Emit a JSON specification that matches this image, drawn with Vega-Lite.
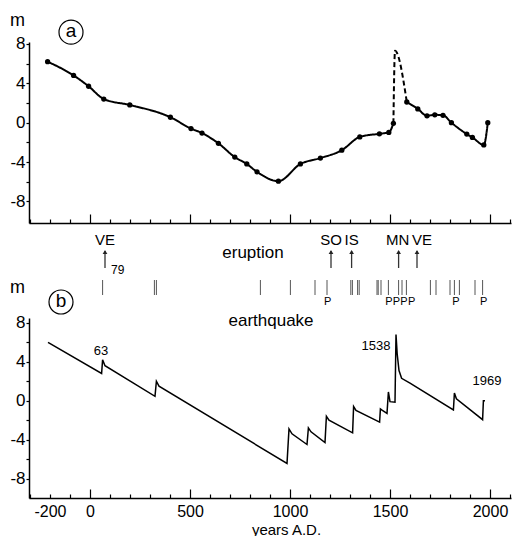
{
  "$schema": "https://vega.github.io/schema/vega-lite/v6.json",
  "padding": {"left": 9, "top": 11, "right": 2, "bottom": 0},
  "spacing": 0,
  "bounds": "flush",
  "config": {
    "view": {"stroke": null},
    "font": "Liberation Sans",
    "axis": {
      "domainColor": "black", "domainWidth": 1.5, "tickColor": "black", "tickWidth": 1.2,
      "labelFont": "Liberation Sans", "labelFontSize": 17, "labelColor": "black", "grid": false,
      "titleFont": "Liberation Sans", "titleFontWeight": "normal", "titleFontSize": 18, "titleColor": "black"
    }
  },
  "datasets": {
    "a": [
      {"year": -212, "m": 6.2, "part": "s1"},
      {"year": -82, "m": 4.8, "part": "s1"},
      {"year": -7, "m": 3.7, "part": "s1"},
      {"year": 69, "m": 2.4, "part": "s1"},
      {"year": 199, "m": 1.8, "part": "s1"},
      {"year": 402, "m": 0.55, "part": "s1"},
      {"year": 505, "m": -0.6, "part": "s1"},
      {"year": 560, "m": -1.06, "part": "s1"},
      {"year": 642, "m": -2.1, "part": "s1"},
      {"year": 724, "m": -3.5, "part": "s1"},
      {"year": 784, "m": -4.2, "part": "s1"},
      {"year": 835, "m": -5.0, "part": "s1"},
      {"year": 942, "m": -5.95, "part": "s1"},
      {"year": 1052, "m": -4.2, "part": "s1"},
      {"year": 1152, "m": -3.6, "part": "s1"},
      {"year": 1259, "m": -2.8, "part": "s1"},
      {"year": 1349, "m": -1.45, "part": "s1"},
      {"year": 1447, "m": -1.13, "part": "s1"},
      {"year": 1494, "m": -0.99, "part": "s1"},
      {"year": 1517, "m": -0.07, "part": "s1"},
      {"year": 1517, "m": -0.07, "part": "dash"},
      {"year": 1525, "m": 7.3, "part": "dash"},
      {"year": 1584, "m": 2.1, "part": "dash"},
      {"year": 1584, "m": 2.1, "part": "s2"},
      {"year": 1639, "m": 1.4, "part": "s2"},
      {"year": 1685, "m": 0.7, "part": "s2"},
      {"year": 1724, "m": 0.8, "part": "s2"},
      {"year": 1765, "m": 0.75, "part": "s2"},
      {"year": 1807, "m": 0.0, "part": "s2"},
      {"year": 1884, "m": -1.16, "part": "s2"},
      {"year": 1912, "m": -1.5, "part": "s2"},
      {"year": 1969, "m": -2.26, "part": "s2"},
      {"year": 1989, "m": 0.0, "part": "s2"}
    ],
    "b": [
      {"i": 1, "year": -210, "m": 6.0},
      {"i": 2, "year": 58, "m": 2.8},
      {"i": 3, "year": 63, "m": 4.2},
      {"i": 4, "year": 75, "m": 3.6},
      {"i": 5, "year": 325, "m": 0.45},
      {"i": 6, "year": 332, "m": 2.0},
      {"i": 7, "year": 345, "m": 1.5},
      {"i": 8, "year": 985, "m": -6.45},
      {"i": 9, "year": 995, "m": -2.9},
      {"i": 10, "year": 1010, "m": -3.4},
      {"i": 11, "year": 1085, "m": -4.5},
      {"i": 12, "year": 1092, "m": -2.8},
      {"i": 13, "year": 1105, "m": -3.2},
      {"i": 14, "year": 1175, "m": -4.3},
      {"i": 15, "year": 1182, "m": -1.6},
      {"i": 16, "year": 1195, "m": -2.0},
      {"i": 17, "year": 1313, "m": -3.3},
      {"i": 18, "year": 1318, "m": -0.6},
      {"i": 19, "year": 1330, "m": -1.0},
      {"i": 20, "year": 1448, "m": -2.2},
      {"i": 21, "year": 1452, "m": -0.85},
      {"i": 22, "year": 1462, "m": -1.0},
      {"i": 23, "year": 1485, "m": -1.3},
      {"i": 24, "year": 1492, "m": 0.9},
      {"i": 25, "year": 1500, "m": -0.1},
      {"i": 26, "year": 1525, "m": -0.15},
      {"i": 27, "year": 1530, "m": 6.8},
      {"i": 28, "year": 1536, "m": 4.8},
      {"i": 29, "year": 1545, "m": 3.1},
      {"i": 30, "year": 1558, "m": 2.3},
      {"i": 31, "year": 1600, "m": 1.8},
      {"i": 32, "year": 1817, "m": -0.95},
      {"i": 33, "year": 1822, "m": 0.8},
      {"i": 34, "year": 1832, "m": 0.2},
      {"i": 35, "year": 1963, "m": -1.95},
      {"i": 36, "year": 1967, "m": 0.0},
      {"i": 37, "year": 1975, "m": 0.0}
    ],
    "eruptions": [
      {"year": 75, "name": "VE"},
      {"year": 1205, "name": "SO"},
      {"year": 1308, "name": "IS"},
      {"year": 1543, "name": "MN"},
      {"year": 1635, "name": "VE"}
    ],
    "quakes": [
      {"year": 63}, {"year": 322}, {"year": 332}, {"year": 852}, {"year": 1002}, {"year": 1125},
      {"year": 1185}, {"year": 1304}, {"year": 1312}, {"year": 1338}, {"year": 1346},
      {"year": 1435}, {"year": 1441}, {"year": 1455}, {"year": 1492}, {"year": 1543},
      {"year": 1560}, {"year": 1582}, {"year": 1702}, {"year": 1730}, {"year": 1800},
      {"year": 1822}, {"year": 1847}, {"year": 1925}, {"year": 1963}
    ],
    "plabels": [
      {"year": 1188}, {"year": 1494}, {"year": 1532}, {"year": 1570}, {"year": 1608}, {"year": 1830}, {"year": 1968}
    ],
    "bnotes": [
      {"year": 55, "m": 5.1, "text": "63"},
      {"year": 1430, "m": 5.6, "text": "1538"},
      {"year": 1985, "m": 2.0, "text": "1969"}
    ]
  },
  "vconcat": [
    {
      "width": 482,
      "height": 181,
      "encoding": {
        "x": {"field": "year", "type": "quantitative",
              "scale": {"domain": [-305, 2105], "nice": false, "zero": false},
              "axis": {"values": [-300,-200,-100,0,100,200,300,400,500,600,700,800,900,1000,1100,1200,1300,1400,1500,1600,1700,1800,1900,2000,2100],
                       "labels": false, "title": null,
                       "tickSize": {"condition": {"test": "datum.value % 500 === 0", "value": -9}, "value": -4}}},
        "y": {"field": "m", "type": "quantitative",
              "scale": {"domain": [-10.2, 8.2], "nice": false, "zero": false},
              "axis": {"values": [-8,-6,-4,-2,0,2,4,6,8],
                       "labelExpr": "datum.value % 4 === 0 ? '' + datum.value : ''",
                       "tickSize": 3, "labelPadding": 1,
                       "title": "m", "titleAngle": 0, "titleX": -12, "titleY": -22,
                       "titleAlign": "center", "titleBaseline": "middle"}}
      },
      "layer": [
        {
          "data": {"values": [{"a": 1}]},
          "mark": {"type": "rule", "strokeDash": [60, 5], "color": "#444", "strokeWidth": 1.1},
          "encoding": {
            "x": {"datum": -240, "type": "quantitative", "scale": {"domain": [-305, 2105], "nice": false, "zero": false}},
            "x2": {"datum": 2105},
            "y": {"datum": 0, "type": "quantitative", "scale": {"domain": [-10.2, 8.2], "nice": false, "zero": false}}
          }
        },
        {
          "data": {"name": "a"},
          "mark": {"type": "line", "color": "black", "strokeWidth": 2, "interpolate": "monotone"},
          "encoding": {
            "detail": {"field": "part"},
            "strokeDash": {"field": "part", "type": "nominal",
                           "scale": {"domain": ["s1", "dash", "s2"], "range": [[1, 0], [5, 3], [1, 0]]},
                           "legend": null}
          }
        },
        {
          "data": {"name": "a"},
          "transform": [{"filter": "datum.part !== 'dash'"}],
          "mark": {"type": "point", "filled": true, "color": "black", "size": 28, "opacity": 1}
        },
        {
          "data": {"values": [{"year": -95, "m": 9.2, "t": "a"}]},
          "layer": [
            {"mark": {"type": "point", "shape": "circle", "size": 576, "filled": false, "color": "black", "strokeWidth": 1.2, "opacity": 1}},
            {"mark": {"type": "text", "fontSize": 19, "color": "black", "baseline": "middle", "dy": -1}, "encoding": {"text": {"field": "t"}}}
          ]
        }
      ]
    },
    {
      "width": 482,
      "height": 95,
      "encoding": {
        "x": {"field": "year", "type": "quantitative",
              "scale": {"domain": [-305, 2105], "nice": false, "zero": false}, "axis": null}
      },
      "layer": [
        {
          "data": {"name": "eruptions"},
          "mark": {"type": "rule", "color": "#333", "strokeWidth": 1.3},
          "encoding": {
            "y": {"datum": 50, "type": "quantitative", "scale": {"domain": [0, 95], "nice": false, "zero": false}, "axis": null},
            "y2": {"datum": 67}
          }
        },
        {
          "data": {"name": "eruptions"},
          "mark": {"type": "point", "shape": "triangle-up", "filled": true, "color": "#222", "size": 22, "opacity": 1},
          "encoding": {
            "y": {"datum": 66, "type": "quantitative", "scale": {"domain": [0, 95], "nice": false, "zero": false}, "axis": null}
          }
        },
        {
          "data": {"name": "eruptions"},
          "mark": {"type": "text", "fontSize": 15, "color": "black", "baseline": "middle",
                   "dx": {"expr": "datum.name === 'VE' && datum.year > 1000 ? 5 : (datum.name === 'MN' ? -1 : 0)"}},
          "encoding": {
            "y": {"datum": 78, "type": "quantitative", "scale": {"domain": [0, 95], "nice": false, "zero": false}, "axis": null},
            "text": {"field": "name"}
          }
        },
        {
          "data": {"values": [{"year": 105, "t": "79", "lvl": 48}]},
          "mark": {"type": "text", "fontSize": 12, "color": "black", "baseline": "middle", "align": "left"},
          "encoding": {
            "y": {"field": "lvl", "type": "quantitative", "scale": {"domain": [0, 95], "nice": false, "zero": false}, "axis": null},
            "text": {"field": "t"}
          }
        },
        {
          "data": {"values": [{"year": 815, "t": "eruption", "lvl": 65}, {"year": 905, "t": "earthquake", "lvl": -3}]},
          "mark": {"type": "text", "fontSize": 17, "color": "black", "baseline": "middle"},
          "encoding": {
            "y": {"field": "lvl", "type": "quantitative", "scale": {"domain": [0, 95], "nice": false, "zero": false}, "axis": null},
            "text": {"field": "t"}
          }
        },
        {
          "data": {"name": "quakes"},
          "mark": {"type": "rule", "color": "#555", "strokeWidth": 1},
          "encoding": {
            "y": {"datum": 23, "type": "quantitative", "scale": {"domain": [0, 95], "nice": false, "zero": false}, "axis": null},
            "y2": {"datum": 38}
          }
        },
        {
          "data": {"name": "plabels"},
          "mark": {"type": "text", "fontSize": 11, "color": "black", "baseline": "middle", "text": "P"},
          "encoding": {
            "y": {"datum": 16, "type": "quantitative", "scale": {"domain": [0, 95], "nice": false, "zero": false}, "axis": null}
          }
        },
        {
          "data": {"values": [{"year": -145, "lvl": 16, "t": "b"}]},
          "encoding": {
            "y": {"field": "lvl", "type": "quantitative", "scale": {"domain": [0, 95], "nice": false, "zero": false}, "axis": null}
          },
          "layer": [
            {"mark": {"type": "point", "shape": "circle", "size": 576, "filled": false, "color": "black", "strokeWidth": 1.2, "opacity": 1}},
            {"mark": {"type": "text", "fontSize": 19, "color": "black", "baseline": "middle", "dy": -1}, "encoding": {"text": {"field": "t"}}}
          ]
        }
      ]
    },
    {
      "width": 482,
      "height": 180,
      "encoding": {
        "x": {"field": "year", "type": "quantitative",
              "scale": {"domain": [-305, 2105], "nice": false, "zero": false},
              "axis": {"values": [-300,-200,-100,0,100,200,300,400,500,600,700,800,900,1000,1100,1200,1300,1400,1500,1600,1700,1800,1900,2000,2100],
                       "labelExpr": "datum.value % 500 === 0 || datum.value === -200 ? '' + datum.value : ''",
                       "tickSize": {"condition": {"test": "datum.value % 500 === 0", "value": -9}, "value": -4},
                       "labelPadding": {"condition": {"test": "datum.value % 500 === 0", "value": 14}, "value": 9},
                       "labelFontSize": 16,
                       "title": "years A.D.", "titleFontSize": 15, "titleX": 257, "titleY": 36,
                       "titleAlign": "center", "titleBaseline": "alphabetic"}},
        "y": {"field": "m", "type": "quantitative",
              "scale": {"domain": [-10, 8.5], "nice": false, "zero": false},
              "axis": {"values": [-8,-6,-4,-2,0,2,4,6,8],
                       "labelExpr": "datum.value % 4 === 0 ? '' + datum.value : ''",
                       "tickSize": 3, "labelPadding": 1,
                       "title": "m", "titleAngle": 0, "titleX": -12, "titleY": -31,
                       "titleAlign": "center", "titleBaseline": "middle"}}
      },
      "layer": [
        {
          "data": {"values": [{"a": 1}]},
          "mark": {"type": "rule", "strokeDash": [55, 10], "color": "#333", "strokeWidth": 1.3},
          "encoding": {
            "x": {"datum": -245, "type": "quantitative", "scale": {"domain": [-305, 2105], "nice": false, "zero": false}},
            "x2": {"datum": 2105},
            "y": {"datum": 0, "type": "quantitative", "scale": {"domain": [-10, 8.5], "nice": false, "zero": false}}
          }
        },
        {
          "data": {"name": "b"},
          "mark": {"type": "line", "color": "black", "strokeWidth": 1.5},
          "encoding": {"order": {"field": "i", "type": "quantitative"}}
        },
        {
          "data": {"name": "bnotes"},
          "mark": {"type": "text", "fontSize": 13, "color": "black", "baseline": "middle"},
          "encoding": {"text": {"field": "text"}}
        }
      ]
    }
  ]
}
